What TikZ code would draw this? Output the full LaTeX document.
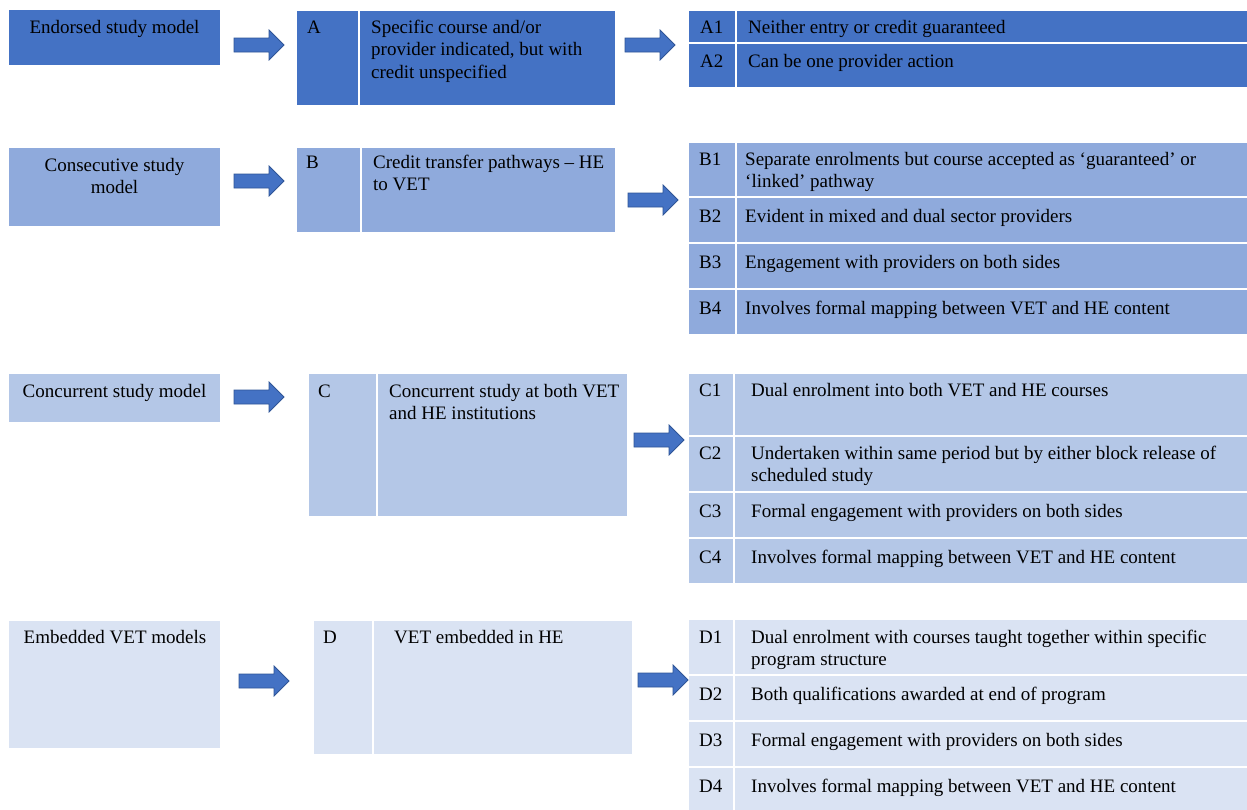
\documentclass[tikz,border=0pt]{standalone}
\usepackage{fontspec}
\setmainfont{Liberation Serif}
\definecolor{cA}{HTML}{4472C4}
\definecolor{cB}{HTML}{8FAADC}
\definecolor{cC}{HTML}{B4C7E7}
\definecolor{cD}{HTML}{DAE3F3}
\definecolor{arrfill}{HTML}{4472C4}
\definecolor{arrline}{HTML}{2F5597}
\newcommand\fsz{\fontsize{19}{22.5}\selectfont}
\newcommand\cellbox[6]{\node[cell, fill=#6, minimum width={#4-#2}, minimum height={#5-#3}] (#1) at (#2,#3) {};}
\begin{document}
\begin{tikzpicture}[x=1pt,y=-1pt,
 cell/.style={draw=white, line width=1.2pt, anchor=north west, inner sep=0pt, outer sep=0pt},
 txt/.style={anchor=north west, inner sep=0pt, align=left, font=\fsz, yshift=15.75pt},
 ctxt/.style={anchor=north, inner sep=0pt, align=center, font=\fsz, yshift=15.75pt},
 blockarr/.pic={\draw[fill=arrfill, draw=arrline, line width=0.8pt, line join=miter] (-25,-7) -- (10,-7) -- (10,-15) -- (25,0) -- (10,15) -- (10,7) -- (-25,7) -- cycle;}
]
\useasboundingbox (0,0) rectangle (1247,809);
\fill[white] (0,0) rectangle (1247,809);

% ---------- Row A ----------
\cellbox{LA}{8}{9}{221}{66}{cA}
\cellbox{Ak}{296}{10}{359}{106}{cA}
\cellbox{At}{359}{10}{616}{106}{cA}
\cellbox{A1k}{688}{10}{736}{43}{cA}
\cellbox{A1t}{736}{10}{1252}{43}{cA}
\cellbox{A2k}{688}{43}{736}{88}{cA}
\cellbox{A2t}{736}{43}{1252}{88}{cA}
\node[ctxt] (tLA) at (114.5,33) {\strut Endorsed study model};
\node[txt] (tAk) at (307,33) {\strut A};
\node[txt] (tAt) at (371,33) {\strut Specific course and/or\\provider indicated, but with\\credit unspecified};
\node[txt] (tA1k) at (700,33) {\strut A1};
\node[txt] (tA1t) at (748,33) {\strut Neither entry or credit guaranteed};
\node[txt] (tA2k) at (700,67) {\strut A2};
\node[txt] (tA2t) at (748,67) {\strut Can be one provider action};
\pic at (259,45) {blockarr};
\pic at (650,45) {blockarr};

% ---------- Row B ----------
\cellbox{LB}{8}{147}{221}{227}{cB}
\cellbox{Bk}{296}{147}{361}{233}{cB}
\cellbox{Bt}{361}{147}{616}{233}{cB}
\cellbox{B1k}{688}{142}{736}{197}{cB}
\cellbox{B1t}{736}{142}{1252}{197}{cB}
\cellbox{B2k}{688}{197}{736}{243}{cB}
\cellbox{B2t}{736}{197}{1252}{243}{cB}
\cellbox{B3k}{688}{243}{736}{289}{cB}
\cellbox{B3t}{736}{243}{1252}{289}{cB}
\cellbox{B4k}{688}{289}{736}{335}{cB}
\cellbox{B4t}{736}{289}{1252}{335}{cB}
\node[ctxt] (tLB) at (114.5,171) {\strut Consecutive study\\model};
\node[txt] (tBk) at (306,168) {\strut B};
\node[txt] (tBt) at (373,168) {\strut Credit transfer pathways – HE\\to VET};
\node[txt] (tB1k) at (699,165) {\strut B1};
\node[txt] (tB1t) at (745,165) {\strut Separate enrolments but course accepted as ‘guaranteed’ or\\‘linked’ pathway};
\node[txt] (tB2k) at (699,222) {\strut B2};
\node[txt] (tB2t) at (745,222) {\strut Evident in mixed and dual sector providers};
\node[txt] (tB3k) at (699,268) {\strut B3};
\node[txt] (tB3t) at (745,268) {\strut Engagement with providers on both sides};
\node[txt] (tB4k) at (699,314) {\strut B4};
\node[txt] (tB4t) at (745,314) {\strut Involves formal mapping between VET and HE content};
\pic at (259,181) {blockarr};
\pic at (653,200) {blockarr};

% ---------- Row C ----------
\cellbox{LC}{8}{373}{221}{423}{cC}
\cellbox{Ck}{308}{373}{377}{517}{cC}
\cellbox{Ct}{377}{373}{628}{517}{cC}
\cellbox{C1k}{688}{373}{734}{436}{cC}
\cellbox{C1t}{734}{373}{1252}{436}{cC}
\cellbox{C2k}{688}{436}{734}{492}{cC}
\cellbox{C2t}{734}{436}{1252}{492}{cC}
\cellbox{C3k}{688}{492}{734}{538}{cC}
\cellbox{C3t}{734}{492}{1252}{538}{cC}
\cellbox{C4k}{688}{538}{734}{584}{cC}
\cellbox{C4t}{734}{538}{1252}{584}{cC}
\node[ctxt] (tLC) at (114.5,397) {\strut Concurrent study model};
\node[txt] (tCk) at (318,397) {\strut C};
\node[txt] (tCt) at (389,397) {\strut Concurrent study at both VET\\and HE institutions};
\node[txt] (tC1k) at (699,396) {\strut C1};
\node[txt] (tC1t) at (751,396) {\strut Dual enrolment into both VET and HE courses};
\node[txt] (tC2k) at (699,459) {\strut C2};
\node[txt] (tC2t) at (751,459) {\strut Undertaken within same period but by either block release of\\scheduled study};
\node[txt] (tC3k) at (699,517) {\strut C3};
\node[txt] (tC3t) at (751,517) {\strut Formal engagement with providers on both sides};
\node[txt] (tC4k) at (699,563) {\strut C4};
\node[txt] (tC4t) at (751,563) {\strut Involves formal mapping between VET and HE content};
\pic at (259,397) {blockarr};
\pic at (659,440) {blockarr};

% ---------- Row D ----------
\cellbox{LD}{8}{620}{221}{749}{cD}
\cellbox{Dk}{313}{620}{373}{755}{cD}
\cellbox{Dt}{373}{620}{633}{755}{cD}
\cellbox{D1k}{688}{619}{734}{675}{cD}
\cellbox{D1t}{734}{619}{1252}{675}{cD}
\cellbox{D2k}{688}{675}{734}{721}{cD}
\cellbox{D2t}{734}{675}{1252}{721}{cD}
\cellbox{D3k}{688}{721}{734}{767}{cD}
\cellbox{D3t}{734}{721}{1252}{767}{cD}
\cellbox{D4k}{688}{767}{734}{814}{cD}
\cellbox{D4t}{734}{767}{1252}{814}{cD}
\node[ctxt] (tLD) at (115,643) {\strut Embedded VET models};
\node[txt] (tDk) at (323,643) {\strut D};
\node[txt] (tDt) at (394,643) {\strut VET embedded in HE};
\node[txt] (tD1k) at (699,643) {\strut D1};
\node[txt] (tD1t) at (751,643) {\strut Dual enrolment with courses taught together within specific\\program structure};
\node[txt] (tD2k) at (699,700) {\strut D2};
\node[txt] (tD2t) at (751,700) {\strut Both qualifications awarded at end of program};
\node[txt] (tD3k) at (699,746) {\strut D3};
\node[txt] (tD3t) at (751,746) {\strut Formal engagement with providers on both sides};
\node[txt] (tD4k) at (699,792) {\strut D4};
\node[txt] (tD4t) at (751,792) {\strut Involves formal mapping between VET and HE content};
\pic at (264,681) {blockarr};
\pic at (663,680) {blockarr};
\end{tikzpicture}
\end{document}
